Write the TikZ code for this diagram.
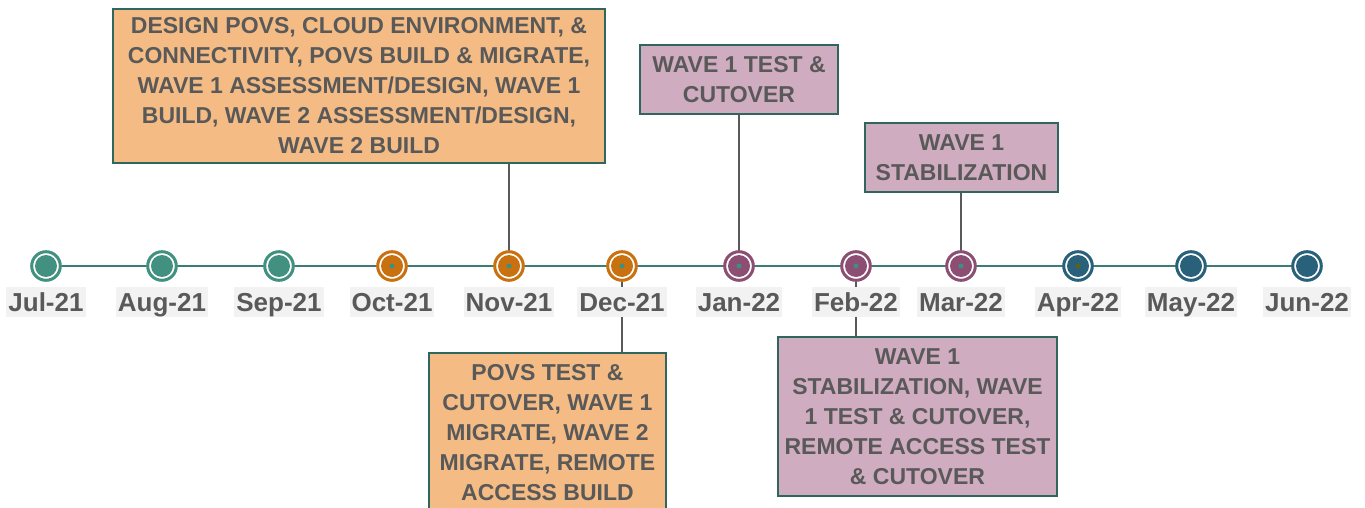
\documentclass[tikz,border=0pt]{standalone}
\usepackage{fontspec}
\setmainfont{Liberation Sans}

\definecolor{julsep}{HTML}{42907F}
\definecolor{octdec}{HTML}{C9700F}
\definecolor{janmar}{HTML}{8C4F73}
\definecolor{aprjun}{HTML}{29617A}
\definecolor{dotteal}{HTML}{3F8F80}
\definecolor{dotolive}{HTML}{5E5E1E}
\definecolor{axisline}{HTML}{3E7D75}
\definecolor{boxline}{HTML}{2F675E}
\definecolor{orangefill}{HTML}{F4BC84}
\definecolor{purplefill}{HTML}{D0ACC0}
\definecolor{labelgray}{HTML}{F2F2F2}
\definecolor{textgray}{HTML}{595959}

\begin{document}
\begin{tikzpicture}[x=1pt,y=-1pt,
        month/.style={fill=labelgray, text=textgray, font=\fontsize{26}{30}\selectfont\bfseries,
                      inner xsep=2pt, inner ysep=0pt, text height=18.6pt, text depth=0pt, minimum height=30pt},
        phase/.style={draw=boxline, line width=2pt, text=textgray, align=center,
                      font=\fontsize{23}{30}\selectfont\bfseries, inner sep=0pt},
        stem/.style={draw=textgray, line width=1.5pt}]
        \useasboundingbox (0,0) rectangle (1365,508);
        \clip (0,0) rectangle (1365,508);

        \foreach \i/\x in {1/46,2/162,3/279,4/392,5/509,6/622,7/739,8/856,9/961,10/1078,11/1191,12/1307}
            \coordinate (m\i) at (\x,266);

        % phase boxes
        \node[phase, fill=orangefill, minimum width=492pt, minimum height=154pt] (designbox) at (359,86)
            {DESIGN POVS, CLOUD ENVIRONMENT, \&\\CONNECTIVITY, POVS BUILD \& MIGRATE,\\WAVE 1 ASSESSMENT/DESIGN, WAVE 1\\BUILD, WAVE 2 ASSESSMENT/DESIGN,\\WAVE 2 BUILD};
        \node[phase, fill=purplefill, minimum width=198pt, minimum height=69pt] (testbox) at (739,79.5)
            {WAVE 1 TEST \&\\CUTOVER};
        \node[phase, fill=purplefill, minimum width=193pt, minimum height=69pt] (stabbox) at (961.5,157.5)
            {WAVE 1\\STABILIZATION};
        \node[phase, fill=orangefill, minimum width=237pt, minimum height=159pt] (povsbox) at (547.5,432.5)
            {POVS TEST \&\\CUTOVER, WAVE 1\\MIGRATE, WAVE 2\\MIGRATE, REMOTE\\ACCESS BUILD};
        \node[phase, fill=purplefill, minimum width=279pt, minimum height=159pt] (remotebox) at (917.5,416.5)
            {WAVE 1\\STABILIZATION, WAVE\\1 TEST \& CUTOVER,\\REMOTE ACCESS TEST\\\& CUTOVER};

        % axis and stems
        \draw[axisline, line width=2pt] (m1) -- (m12);
        \draw[stem] (m5) -- (m5 |- designbox.south);
        \draw[stem] (m7) -- (m7 |- testbox.south);
        \draw[stem] (m9) -- (m9 |- stabbox.south);
        \draw[stem] (m6) -- (m6 |- povsbox.north);
        \draw[stem] (m8) -- (m8 |- remotebox.north);

        % month markers
        \foreach \i/\x/\c/\t in {1/46/julsep/Jul-21,2/162/julsep/Aug-21,3/279/julsep/Sep-21,
                                 4/392/octdec/Oct-21,5/509/octdec/Nov-21,6/622/octdec/Dec-21,
                                 7/739/janmar/Jan-22,8/856/janmar/Feb-22,9/961/janmar/Mar-22,
                                 10/1078/aprjun/Apr-22,11/1191/aprjun/May-22,12/1307/aprjun/Jun-22}{
            \draw[\c, line width=3pt, fill=white] (m\i) circle (14.3);
            \fill[\c] (m\i) circle (11);
            \node[month] (l\i) at (\x,302) {\t};
        }
        \foreach \i in {4,...,9}
            \fill[dotteal] (m\i) circle (2.5);
        \fill[dotolive] (m10) circle (2.5);
    \end{tikzpicture}
\end{document}
